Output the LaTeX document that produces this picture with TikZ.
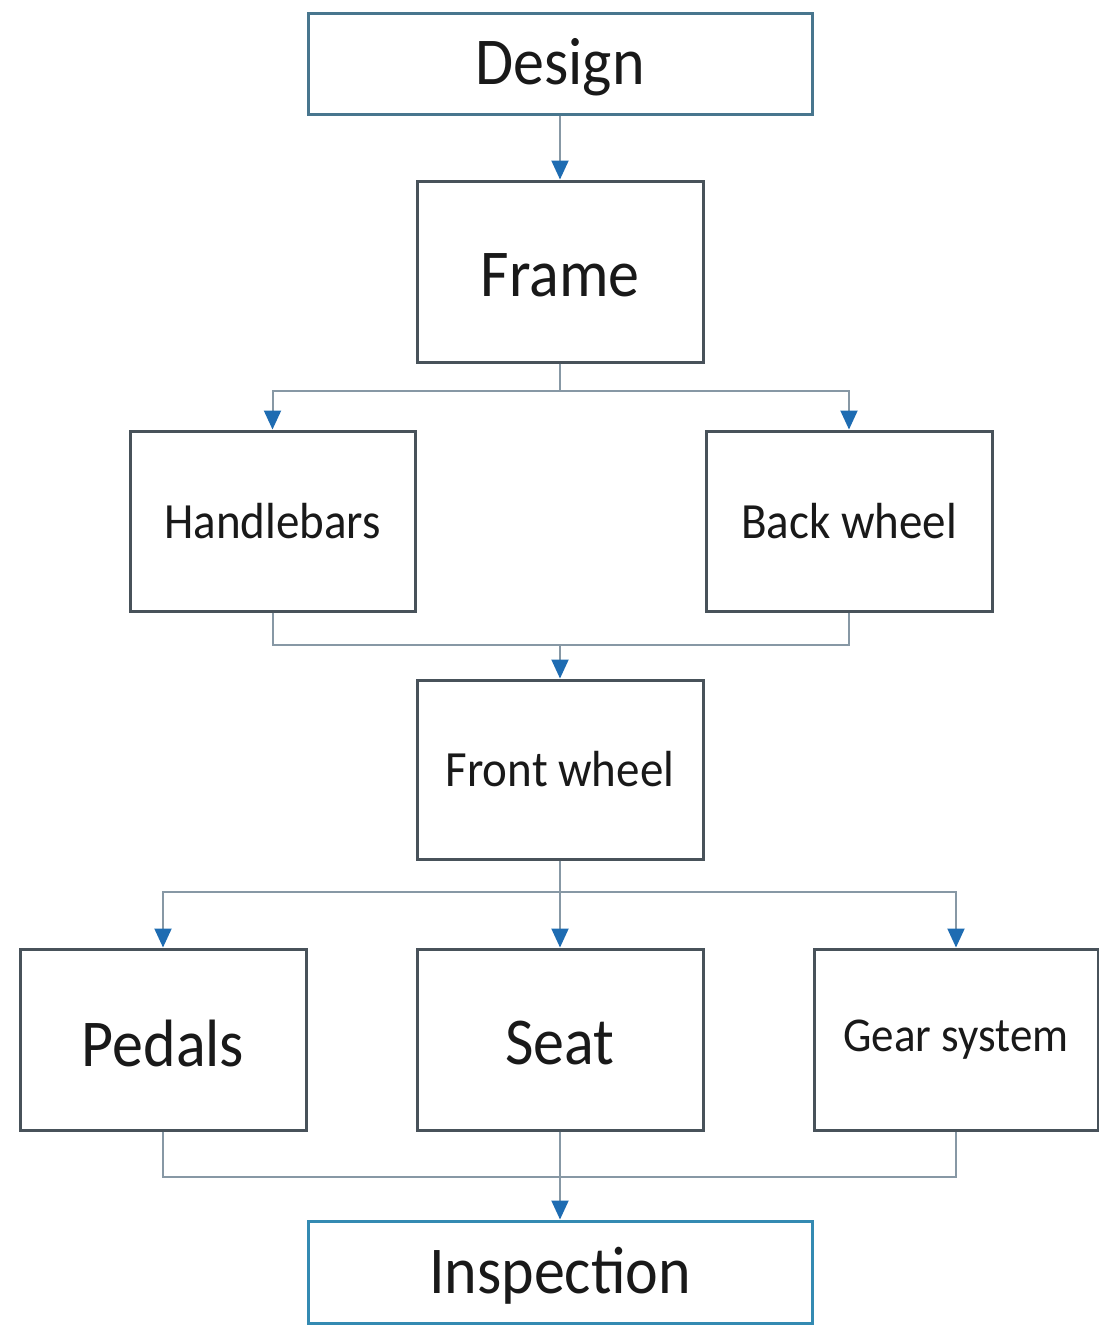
\documentclass[tikz,border=0pt]{standalone}
\usepackage{fontspec}
\setmainfont{Carlito}
\usetikzlibrary{arrows.meta}
\definecolor{boxgray}{RGB}{72,82,90}
\definecolor{topblue}{RGB}{72,118,142}
\definecolor{botblue}{RGB}{52,138,178}
\definecolor{linegray}{RGB}{135,152,165}
\definecolor{arrblue}{RGB}{30,108,178}
\definecolor{txt}{RGB}{25,25,25}
\tikzset{
  box/.style={draw=boxgray, line width=3pt, rectangle, inner sep=0pt, text=txt, fill=white},
  bigtxt/.style={font=\fontsize{62}{70}\selectfont},
  smalltxt/.style={font=\fontsize{47}{54}\selectfont},
  conn/.style={draw=linegray, line width=2pt},
  arr/.style={conn, -{Triangle[width=17pt,length=19pt,color=arrblue]}},
}
\newcommand{\vs}[1]{\scalebox{1}[1.08]{#1}}
\newcommand{\vb}[1]{\raisebox{-4pt}[\height][\depth]{\scalebox{1}[1.08]{#1}}}
\begin{document}
\begin{tikzpicture}[x=1pt,y=-1pt]
\fill[white] (0,0) rectangle (1099,1326);
\useasboundingbox (0,0) rectangle (1099,1326);
\node[box, bigtxt, draw=topblue, minimum width=504pt, minimum height=101pt] (design) at (560,63.5) {\vb{Design}};
\node[box, bigtxt, minimum width=286pt, minimum height=181pt] (frame) at (560,271.5) {\vb{Frame}};
\node[box, smalltxt, minimum width=285pt, minimum height=180pt] (hb) at (272.5,521) {\vs{Handlebars}};
\node[box, smalltxt, minimum width=286pt, minimum height=180pt] (bw) at (849,521) {\vs{Back wheel}};
\node[box, smalltxt, minimum width=286pt, minimum height=179pt] (fw) at (560,769.5) {\vs{Front wheel}};
\node[box, bigtxt, minimum width=286pt, minimum height=181pt] (ped) at (163,1039.5) {\vb{Pedals}};
\node[box, bigtxt, minimum width=286pt, minimum height=181pt] (seat) at (560,1039.5) {\vb{Seat}};
\node[box, smalltxt, font=\fontsize{45}{52}\selectfont, minimum width=284pt, minimum height=181pt] (gear) at (956,1039.5) {\vs{Gear system}};
\node[box, bigtxt, draw=botblue, minimum width=504pt, minimum height=102pt] (insp) at (560,1272) {\vb{Inspection}};

\coordinate (b1) at (560,391);
\coordinate (m1) at (560,645);
\coordinate (b2) at (560,892);
\coordinate (m2) at (560,1177);

\draw[arr] (design) -- (frame);
\draw[conn] (frame.south) -- (b1);
\draw[arr] (b1) -| (hb.north);
\draw[arr] (b1) -| (bw.north);
\draw[conn] (hb.south) |- (m1) -| (bw.south);
\draw[arr] (m1) -- (fw.north);
\draw[arr] (fw.south) -- (seat.north);
\draw[arr] (b2) -| (ped.north);
\draw[arr] (b2) -| (gear.north);
\draw[conn] (ped.south) |- (m2) -| (gear.south);
\draw[arr] (seat.south) -- (insp.north);
\end{tikzpicture}
\end{document}
